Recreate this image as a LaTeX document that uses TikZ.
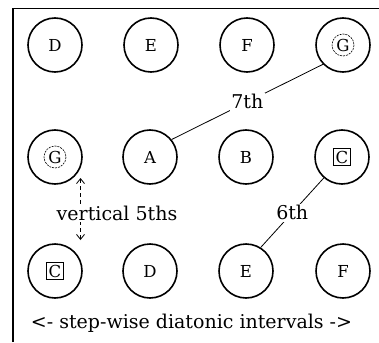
\documentclass[tikz,border=0pt]{standalone}
\usepackage{fontspec}
\setmainfont{DejaVu Serif}
\usetikzlibrary{arrows.meta,calc}
\newcommand\boxednote[1]{{\fboxrule=1pt\fboxsep=1.8pt\fbox{#1}}}
\tikzset{chev/.tip={Straight Barb[length=5pt, width=8pt]}}
\begin{document}
\begin{tikzpicture}[x=1pt,y=-1pt,
  note/.style={circle, draw, line width=1.6pt, minimum size=54pt, inner sep=0pt,
               font=\fontsize{16.5}{16.5}\selectfont},
  ring/.style={line width=0.6pt, dash pattern=on 2pt off 1pt},
  lbl/.style={fill=white, inner sep=1.5pt, font=\fontsize{19}{19}\selectfont},
  link/.style={line width=0.8pt}]
\useasboundingbox (0,0) rectangle (379,342);
% frame
\draw[line width=1.4pt] (13,342) -- (13,8.5) -- (379,8.5);
% top row
\node[note] (D1) at (55,45)  {D};
\node[note] (E1) at (151,45) {E};
\node[note] (F1) at (247,45) {F};
\node[note] (G1) at (343,45) {G};
% middle row
\node[note] (G2) at (55,157)  {G};
\node[note] (A2) at (150,157) {A};
\node[note] (B2) at (246,157) {B};
\node[note] (C2) at (342,157) {\boxednote{C}};
% bottom row
\node[note] (C3) at (55,271)  {\boxednote{C}};
\node[note] (D3) at (150,271) {D};
\node[note] (E3) at (246,271) {E};
\node[note] (F3) at (343,271) {F};
% rings round the G notes
\draw[ring] (G1.center) circle[radius=11];
\draw[ring] (G2.center) circle[radius=11];
% intervals
\draw[link] (G1.224) -- node[lbl]{7th} (A2.39);
\draw[link] (C2.229) -- node[lbl]{6th} (E3.58);
\coordinate (v5top) at ($(G2.center)+(25.5,21)$);
\coordinate (v5bot) at ($(C3.center)+(25.5,-31)$);
\draw[link, dash pattern=on 4pt off 3pt, {chev}-{chev}] (v5top) --
  node[lbl, xshift=36.5pt, yshift=-4pt]{vertical 5ths} (v5bot);
% caption
\node[font=\fontsize{19}{19}\selectfont] (steps) at (191.5,323)
  {<- step-wise diatonic intervals ->};
\end{tikzpicture}
\end{document}
